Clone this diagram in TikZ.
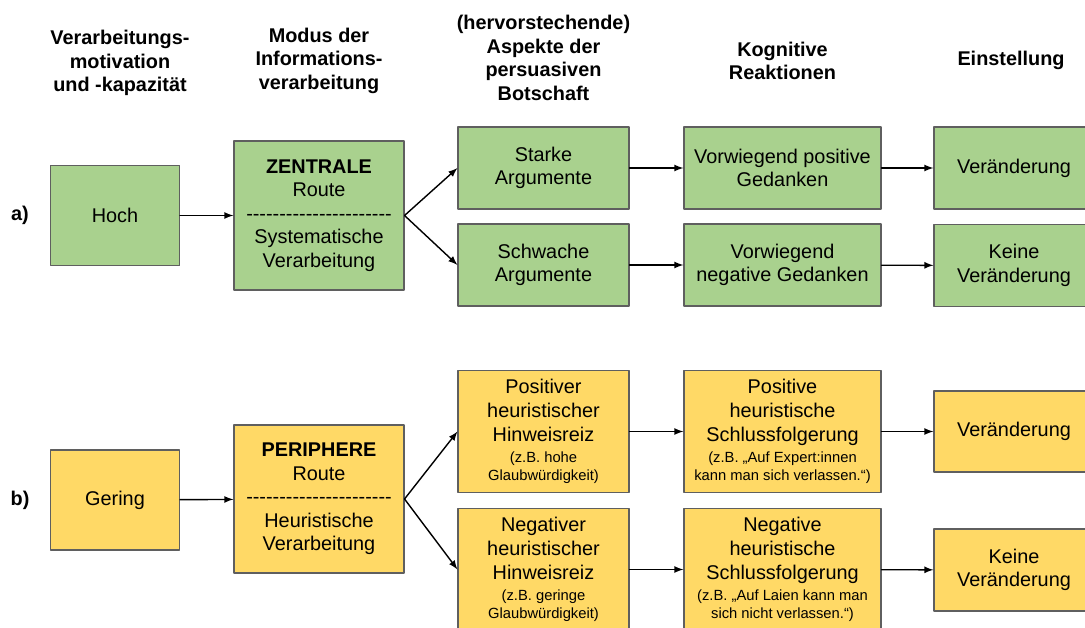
\documentclass[tikz,border=0pt]{standalone}
\usepackage{fontspec}
\setmainfont{Liberation Sans}
\usepackage{tikz}
\usetikzlibrary{shapes.geometric, calc, arrows}
\definecolor{gruen}{HTML}{A9D18E}
\definecolor{gelb}{HTML}{FFD966}
\definecolor{rand}{HTML}{5F5F5F}
\newcommand{\klein}[1]{{\fontsize{8.4}{10.2}\selectfont #1}}
\newcommand{\strichzeile}{\foreach \i in {1,...,22}{-}}
\tikzstyle{box}=[rectangle,draw=rand,line width=0.6pt,align=center,inner sep=1pt,font=\fontsize{11.3}{13.4}\selectfont]
\tikzstyle{gbox}=[box,fill=gruen]
\tikzstyle{ybox}=[box,fill=gelb]
\tikzstyle{kopf}=[align=center,font=\fontsize{11.3}{13.4}\selectfont\bfseries]
\tikzstyle{pfeil}=[->,line width=0.8pt]
\begin{document}
\begin{tikzpicture}[line cap=round,line join=round,>=latex,x=1cm,y=1cm, scale=1]
\useasboundingbox (0,0) rectangle (21.70,-12.56);
\clip(0,0) rectangle (21.70,-12.56);
% Spaltenkoepfe
\node [kopf] (k1) at (2.40,-1.26) {Verarbeitungs-\\motivation\\und -kapazität};
\node [kopf] (k2) at (6.38,-1.21) {Modus der\\Informations-\\verarbeitung};
\node [kopf] (k3) at (10.87,-1.16) {(hervorstechende)\\Aspekte der\\persuasiven\\Botschaft};
\node [kopf] (k4) at (15.65,-1.22) {Kognitive\\Reaktionen};
\node [kopf] (k5) at (20.22,-1.20) {Einstellung};
\node [kopf] (la) at (0.40,-4.31) {a)};
\node [kopf] (lb) at (0.40,-10.00) {b)};
% a) zentrale Route
\node [gbox,minimum width=2.58cm,minimum height=2.00cm] (hoch) at (2.30,-4.31) {Hoch};
\node [gbox,minimum width=3.40cm,minimum height=2.98cm] (zentral) at (6.38,-4.31) {\textbf{ZENTRALE}\\Route\\\strichzeile\\Systematische\\Verarbeitung};
\node [gbox,minimum width=3.42cm,minimum height=1.64cm] (stark) at (10.87,-3.36) {Starke\\Argumente};
\node [gbox,minimum width=3.42cm,minimum height=1.64cm] (schwach) at (10.87,-5.30) {Schwache\\Argumente};
\node [gbox,minimum width=3.94cm,minimum height=1.64cm] (posged) at (15.65,-3.36) {Vorwiegend positive\\Gedanken};
\node [gbox,minimum width=3.94cm,minimum height=1.64cm] (negged) at (15.65,-5.30) {Vorwiegend\\negative Gedanken};
\node [gbox,minimum width=3.20cm,minimum height=1.64cm] (veraA) at (20.28,-3.36) {Veränderung};
\node [gbox,minimum width=3.20cm,minimum height=1.64cm] (keineA) at (20.28,-5.31) {Keine\\Veränderung};
% b) periphere Route
\node [ybox,minimum width=2.58cm,minimum height=2.00cm] (gering) at (2.30,-10.00) {Gering};
\node [ybox,minimum width=3.40cm,minimum height=2.96cm] (peripher) at (6.38,-9.98) {\textbf{PERIPHERE}\\Route\\\strichzeile\\Heuristische\\Verarbeitung};
\node [ybox,minimum width=3.42cm,minimum height=2.45cm] (posreiz) at (10.87,-8.63) {Positiver\\heuristischer\\Hinweisreiz\\[-1pt]\klein{(z.B. hohe}\\[-3.4pt]\klein{Glaubwürdigkeit)}};
\node [ybox,minimum width=3.42cm,minimum height=2.45cm] (negreiz) at (10.87,-11.39) {Negativer\\heuristischer\\Hinweisreiz\\[-1pt]\klein{(z.B. geringe}\\[-3.4pt]\klein{Glaubwürdigkeit)}};
\node [ybox,minimum width=3.94cm,minimum height=2.45cm] (posfolg) at (15.65,-8.63) {Positive\\heuristische\\Schlussfolgerung\\[-1pt]\klein{(z.B. „Auf Expert:innen}\\[-3.4pt]\klein{kann man sich verlassen.“)}};
\node [ybox,minimum width=3.94cm,minimum height=2.45cm] (negfolg) at (15.65,-11.39) {Negative\\heuristische\\Schlussfolgerung\\[-1pt]\klein{(z.B. „Auf Laien kann man}\\[-3.4pt]\klein{sich nicht verlassen.“)}};
\node [ybox,minimum width=3.20cm,minimum height=1.62cm] (veraB) at (20.28,-8.63) {Veränderung};
\node [ybox,minimum width=3.20cm,minimum height=1.64cm] (keineB) at (20.28,-11.40) {Keine\\Veränderung};
% Pfeile
\draw [pfeil] (hoch) -- (zentral);
\draw [pfeil] (zentral.east) -- (stark.west);
\draw [pfeil] (zentral.east) -- (schwach.west);
\draw [pfeil] (stark) -- (posged);
\draw [pfeil] (schwach) -- (negged);
\draw [pfeil] (posged) -- (veraA);
\draw [pfeil] (negged) -- (keineA);
\draw [pfeil] (gering) -- (peripher);
\draw [pfeil] (peripher.east) -- (posreiz.west);
\draw [pfeil] (peripher.east) -- (negreiz.west);
\draw [pfeil] (posreiz) -- (posfolg);
\draw [pfeil] (negreiz) -- (negfolg);
\draw [pfeil] (posfolg) -- (veraB);
\draw [pfeil] (negfolg) -- (keineB);
\end{tikzpicture}
\end{document}
